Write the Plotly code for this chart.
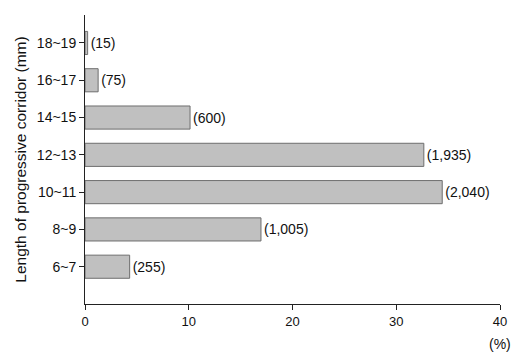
import plotly.graph_objects as go

categories = ["6~7", "8~9", "10~11", "12~13", "14~15", "16~17", "18~19"]
counts = [255, 1005, 2040, 1935, 600, 75, 15]
total = sum(counts)
percents = [c / total * 100 for c in counts]
labels = ["({:,})".format(c) for c in counts]
x_ticks = [0, 10, 20, 30, 40]

FONT = "Liberation Sans, Arial, sans-serif"

fig = go.Figure(go.Bar(
    y=categories, x=percents, orientation="h",
    text=labels, textposition="outside", cliponaxis=False,
    textfont=dict(size=14, color="#111"),
    marker=dict(color="#c0c0c0", line=dict(color="#6e6e6e", width=1)),
    width=0.62,
))

fig.update_layout(
    width=520, height=353,
    margin=dict(l=85, r=20, t=15, b=49),
    paper_bgcolor="white", plot_bgcolor="white",
    font=dict(family=FONT, size=14, color="#111"),
    showlegend=False,
    xaxis=dict(range=[0, 40], tickvals=x_ticks, ticks="outside", ticklen=5,
               tickcolor="#222", showline=True, linecolor="#222", linewidth=1,
               showgrid=False, zeroline=False, tickfont=dict(size=13)),
    yaxis=dict(range=[-1, 6.75], ticks="outside", ticklen=5, tickcolor="#222",
               showline=True, linecolor="#222", linewidth=1, showgrid=False,
               title=dict(text="Length of progressive corridor (mm)", font=dict(size=15.5), standoff=6),
               tickfont=dict(size=14)),
    annotations=[dict(text="(%)", xref="paper", yref="paper", x=1.0, y=-0.105,
                      xanchor="center", yanchor="top", showarrow=False,
                      font=dict(size=14))],
)

fig.write_html("out.html")
